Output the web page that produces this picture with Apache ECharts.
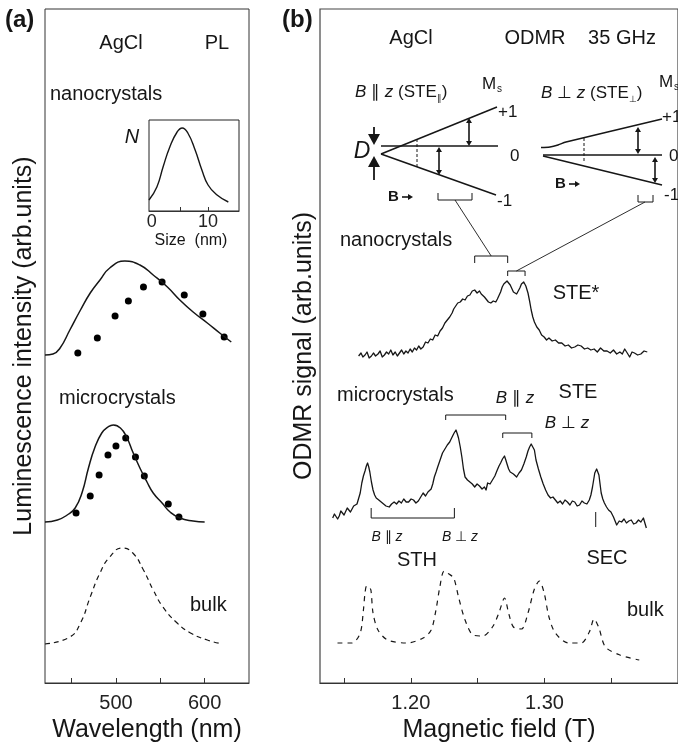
<!DOCTYPE html>
<html>
<head>
<meta charset="utf-8">
<script src="https://cdn.jsdelivr.net/npm/echarts@6/dist/echarts.min.js"></script>
<style>
  html, body { margin: 0; padding: 0; background: #fff; }
  #chart { width: 678px; height: 749px; }
</style>
</head>
<body>
<div id="chart"></div>
<script>
// ---------- (a) photoluminescence ----------
const nanoFitWl = [420, 429, 437, 448, 460, 471, 482, 493, 510, 527, 542, 558, 572, 587, 603, 617, 630];
const nanoFitI  = [328, 329, 335, 353, 373, 390, 403, 415, 422, 418, 408, 396, 383, 371, 360, 350, 341];
const nanoDotWl = [457, 479, 499, 514, 531, 552, 577, 598, 622];
const nanoDotI  = [330, 345, 367, 382, 396, 401, 388, 369, 346];

const microFitWl = [420, 434, 445, 454, 462, 469, 476, 484, 491, 497, 505, 512, 519, 527, 535, 542, 552, 561, 572, 587, 600];
const microFitI  = [161, 163, 168, 175, 191, 215, 235, 250, 256, 258, 255, 246, 231, 215, 201, 190, 180, 171, 165, 162, 161];
const microDotWl = [455, 471, 481, 491, 500, 511, 522, 532, 559, 571];
const microDotI  = [170, 187, 208, 228, 237, 245, 226, 207, 179, 166];

const bulkPlWl = [420, 448, 460, 471, 482, 493, 507, 519, 531, 542, 553, 569, 584, 603, 620];
const bulkPlI  = [39, 46, 60, 86, 110, 126, 135, 130, 113, 93, 76, 60, 50, 43, 39];

// size distribution of the nanocrystals (inset)
const sizeNm = [-0.5, 0.9, 2.0, 3.2, 4.5, 5.4, 6.4, 7.7, 8.9, 10.0, 11.6, 13.6];
const sizeN  = [11, 24, 44, 64, 79, 83, 78, 61, 41, 26, 16, 9];

const wlTicks = [450, 500, 550, 600];
const wlLabels = [500, 600];
const sizeTicks = [5, 10];
const sizeLabels = [0, 10];

// ---------- (b) ODMR at 35 GHz ----------
const nanoField = [1.1609,1.1627,1.1641,1.1657,1.1672,1.1688,1.1705,1.1720,1.1736,1.1754,1.1770,1.1786,1.1802,1.1818,1.1834,1.1850,1.1866,1.1883,1.1899,1.1915,1.1931,1.1947,1.1963,1.1979,1.1995,1.2011,1.2027,1.2043,1.2059,1.2075,1.2092,1.2110,1.2128,1.2146,1.2164,1.2182,1.2201,1.2219,1.2237,1.2255,1.2273,1.2291,1.2309,1.2321,1.2333,1.2351,1.2370,1.2388,1.2406,1.2424,1.2442,1.2460,1.2478,1.2496,1.2514,1.2527,1.2539,1.2551,1.2563,1.2581,1.2599,1.2617,1.2636,1.2648,1.2659,1.2672,1.2684,1.2696,1.2708,1.2720,1.2732,1.2744,1.2756,1.2768,1.2780,1.2792,1.2804,1.2816,1.2828,1.2845,1.2861,1.2877,1.2889,1.2901,1.2913,1.2925,1.2943,1.2961,1.2979,1.2998,1.3016,1.3034,1.3058,1.3082,1.3106,1.3130,1.3155,1.3179,1.3203,1.3227,1.3251,1.3275,1.3300,1.3324,1.3348,1.3372,1.3396,1.3420,1.3445,1.3469,1.3493,1.3517,1.3541,1.3565,1.3583,1.3601,1.3620,1.3638,1.3656,1.3674,1.3698,1.3722,1.3746,1.3770];
const nanoSignal = [327,330,326,328,331,325,327,330,327,329,332,326,328,331,329,333,328,331,327,330,333,329,332,330,334,331,335,333,337,334,336,341,340,344,343,348,347,352,355,360,363,366,370,374,376,380,381,384,383,387,388,392,393,390,392,389,390,386,385,381,380,382,381,384,386,391,396,399,400,402,402,398,396,391,389,389,391,395,399,401,397,390,382,373,366,361,356,353,348,346,343,345,342,343,340,340,337,338,335,336,338,337,334,335,333,334,331,335,332,332,330,333,329,331,329,334,330,326,331,330,328,329,332,331];

const microField = [1.1415,1.1428,1.1440,1.1452,1.1464,1.1476,1.1488,1.1500,1.1512,1.1524,1.1536,1.1548,1.1560,1.1572,1.1585,1.1597,1.1609,1.1621,1.1633,1.1645,1.1657,1.1667,1.1676,1.1685,1.1693,1.1705,1.1717,1.1729,1.1741,1.1760,1.1778,1.1796,1.1814,1.1826,1.1838,1.1856,1.1875,1.1893,1.1911,1.1929,1.1947,1.1965,1.1983,1.2002,1.2020,1.2038,1.2056,1.2074,1.2092,1.2110,1.2128,1.2140,1.2152,1.2164,1.2176,1.2189,1.2201,1.2219,1.2237,1.2255,1.2273,1.2291,1.2309,1.2324,1.2338,1.2348,1.2357,1.2370,1.2382,1.2394,1.2406,1.2424,1.2442,1.2460,1.2478,1.2496,1.2514,1.2533,1.2551,1.2563,1.2575,1.2593,1.2611,1.2629,1.2647,1.2660,1.2672,1.2686,1.2701,1.2711,1.2720,1.2732,1.2744,1.2756,1.2768,1.2780,1.2792,1.2810,1.2828,1.2846,1.2864,1.2877,1.2889,1.2901,1.2913,1.2925,1.2937,1.2955,1.2973,1.2991,1.3009,1.3027,1.3046,1.3064,1.3082,1.3100,1.3118,1.3136,1.3154,1.3172,1.3191,1.3209,1.3227,1.3245,1.3263,1.3281,1.3299,1.3318,1.3336,1.3348,1.3360,1.3377,1.3391,1.3408,1.3425,1.3437,1.3449,1.3465,1.3480,1.3498,1.3517,1.3529,1.3541,1.3560,1.3578,1.3596,1.3614,1.3632,1.3650,1.3668,1.3686,1.3704,1.3722,1.3741,1.3752,1.3763];
const microSignal = [165,169,168,164,167,172,171,168,170,175,175,171,172,177,176,179,181,190,200,207,212,217,220,216,211,201,193,188,185,183,181,179,177,175,176,179,181,179,182,180,184,181,181,184,183,180,182,186,190,187,191,189,194,199,206,211,216,223,230,234,238,241,246,250,253,249,245,236,226,214,206,203,201,199,196,199,197,194,196,193,200,199,203,207,213,217,220,224,227,223,219,214,211,212,209,208,206,210,213,219,226,232,236,239,236,233,223,214,206,199,193,188,185,186,183,180,182,179,183,181,178,182,181,177,178,182,180,179,183,188,196,210,214,208,190,184,180,176,173,171,166,162,158,162,161,164,160,162,163,159,160,163,161,165,160,155];

const bulkField = [1.1451,1.1560,1.1621,1.1645,1.1657,1.1669,1.1686,1.1701,1.1717,1.1754,1.1826,1.1971,1.2092,1.2152,1.2188,1.2217,1.2249,1.2285,1.2321,1.2357,1.2406,1.2466,1.2538,1.2611,1.2659,1.2701,1.2732,1.2768,1.2828,1.2877,1.2925,1.2962,1.2998,1.3034,1.3082,1.3179,1.3275,1.3336,1.3372,1.3408,1.3457,1.3565,1.3710];
const bulkSignal = [40,40,50,73,90,97,96,93,70,53,43,40,45,53,73,96,112,109,105,86,63,48,47,56,70,85,70,56,54,70,94,102,90,66,50,40,40,51,64,55,36,28,23];

const fieldTicks = [1.15, 1.20, 1.25, 1.30, 1.35];
const fieldLabels = [1.20, 1.30];

// ---------- drawing ----------
const FF = '"Liberation Sans", Arial, Helvetica, sans-serif';
const ink = '#161616';
const pairs = (xs, ys) => xs.map((x, i) => [x, ys[i]]);

const hiddenY = (grid, max, name, gap) => ({
  gridIndex: grid, type: 'value', min: 0, max: max,
  axisLine: { show: false }, axisTick: { show: false }, axisLabel: { show: false },
  splitLine: { show: false },
  name: name || '', nameLocation: 'middle', nameRotate: 90, nameGap: gap || 0,
  nameTextStyle: { fontFamily: FF, fontSize: 25, color: ink }
});

const xAxisBase = (grid, min, max, ticks, labels, fmt, name, size, margin, tickLen) => ({
  gridIndex: grid, type: 'value', min: min, max: max,
  axisLine: { show: true, lineStyle: { color: '#333', width: 1 } },
  axisTick: { show: true, inside: true, length: tickLen, customValues: ticks, lineStyle: { color: '#333', width: 1 } },
  axisLabel: { customValues: labels, formatter: fmt, fontFamily: FF, fontSize: size, color: '#222', margin: margin },
  splitLine: { show: false },
  name: name || '', nameLocation: 'middle', nameGap: 33,
  nameTextStyle: { fontFamily: FF, fontSize: 25, color: ink }
});

const option = {
  animation: false,
  backgroundColor: '#fff',
  grid: [
    { left: 45, top: 9, width: 204, height: 674, show: true, borderColor: '#333', borderWidth: 1 },
    { left: 320, top: 9, width: 370, height: 674, show: true, borderColor: '#444', borderWidth: 1.2 },
    { left: 149, top: 120, width: 90, height: 91, show: true, borderColor: '#222', borderWidth: 1 }
  ],
  xAxis: [
    xAxisBase(0, 420, 650, wlTicks, wlLabels, v => String(v), 'Wavelength (nm)', 20, 10, 5),
    xAxisBase(1, 1.132, 1.40, fieldTicks, fieldLabels, v => v.toFixed(2), 'Magnetic field (T)', 20, 10, 5),
    xAxisBase(2, -0.5, 15.5, sizeTicks, sizeLabels, v => String(v), '', 18, 2, 4)
  ],
  yAxis: [
    hiddenY(0, 674, 'Luminescence intensity (arb.units)', 8),
    hiddenY(1, 674, 'ODMR signal (arb.units)', 3),
    hiddenY(2, 91)
  ],
  series: [
    { type: 'line', xAxisIndex: 0, yAxisIndex: 0, data: pairs(nanoFitWl, nanoFitI), smooth: 0.5,
      showSymbol: false, lineStyle: { color: ink, width: 1.5 } },
    { type: 'scatter', xAxisIndex: 0, yAxisIndex: 0, data: pairs(nanoDotWl, nanoDotI),
      symbolSize: 7, itemStyle: { color: '#000', opacity: 1 } },
    { type: 'line', xAxisIndex: 0, yAxisIndex: 0, data: pairs(microFitWl, microFitI), smooth: 0.5,
      showSymbol: false, lineStyle: { color: ink, width: 1.5 } },
    { type: 'scatter', xAxisIndex: 0, yAxisIndex: 0, data: pairs(microDotWl, microDotI),
      symbolSize: 7, itemStyle: { color: '#000', opacity: 1 } },
    { type: 'line', xAxisIndex: 0, yAxisIndex: 0, data: pairs(bulkPlWl, bulkPlI), smooth: 0.5,
      showSymbol: false, lineStyle: { color: ink, width: 1.2, type: [5, 4] } },
    { type: 'line', xAxisIndex: 2, yAxisIndex: 2, data: pairs(sizeNm, sizeN), smooth: 0.5,
      showSymbol: false, lineStyle: { color: ink, width: 1.4 } },
    { type: 'line', xAxisIndex: 1, yAxisIndex: 1, data: pairs(nanoField, nanoSignal),
      showSymbol: false, sampling: 'none', lineStyle: { color: ink, width: 1.3, join: 'round' } },
    { type: 'line', xAxisIndex: 1, yAxisIndex: 1, data: pairs(microField, microSignal),
      showSymbol: false, sampling: 'none', lineStyle: { color: ink, width: 1.3, join: 'round' } },
    { type: 'line', xAxisIndex: 1, yAxisIndex: 1, data: pairs(bulkField, bulkSignal), smooth: 0.3,
      showSymbol: false, lineStyle: { color: ink, width: 1.2, type: [5, 5] } }
  ]
};

const chart = echarts.init(document.getElementById('chart'), null, { renderer: 'canvas' });
chart.setOption(option);

// ---------- annotations ----------
function seg(x1, y1, x2, y2, w, dash) {
  return { type: 'line', silent: true, z: 10, shape: { x1, y1, x2, y2 },
    style: { stroke: ink, lineWidth: w || 1, lineDash: dash || null } };
}
function poly(points, w, smooth) {
  return { type: 'polyline', silent: true, z: 10, shape: { points, smooth: smooth || 0 },
    style: { stroke: ink, lineWidth: w || 1, fill: null } };
}
function tri(points) {
  return { type: 'polygon', silent: true, z: 10, shape: { points }, style: { fill: ink } };
}
function txt(x, y, text, size, align, extra) {
  return { type: 'text', silent: true, z: 10, x, y,
    style: Object.assign({ text, fill: ink, fontFamily: FF, fontSize: size,
      align: align || 'left', verticalAlign: 'middle' }, extra || {}) };
}
function richTxt(x, y, text, size, align) {
  return txt(x, y, text, size, align, {
    rich: {
      n: { fontFamily: FF, fontSize: size, lineHeight: size + 5, fill: ink },
      i: { fontFamily: FF, fontSize: size, fontStyle: 'italic', lineHeight: size + 5, fill: ink },
      s: { fontFamily: FF, fontSize: Math.round(size * 0.55), lineHeight: 8, verticalAlign: 'bottom', fill: ink }
    }
  });
}
function dblArrow(x, yTop, yBot) {
  const h = 5, w = 3;
  return [
    seg(x, yTop + h - 1, x, yBot - h + 1, 1.6),
    tri([[x, yTop], [x - w, yTop + h], [x + w, yTop + h]]),
    tri([[x, yBot], [x - w, yBot - h], [x + w, yBot - h]])
  ];
}
function fieldArrow(x, y) {
  return [txt(x, y, 'B', 15, 'left', { fontWeight: 'bold' }),
    seg(x + 14, y, x + 21, y, 1.6),
    tri([[x + 20, y - 3], [x + 20, y + 3], [x + 25, y]])];
}
const toPx = (b, v) => chart.convertToPixel({ gridIndex: 1 }, [b, v]);
function bracket(b0, b1, v, tip) {
  const p0 = toPx(b0, v), p1 = toPx(b1, v);
  return poly([[p0[0], p0[1] + tip], [p0[0], p0[1]], [p1[0], p1[1]], [p1[0], p1[1] + tip]], 1);
}
function bracketMid(b0, b1, v) {
  return toPx((b0 + b1) / 2, v);
}

const g = [];
// panel letters
g.push(txt(5, 20, '(a)', 24, 'left', { fontWeight: 'bold' }));
g.push(txt(282, 20, '(b)', 24, 'left', { fontWeight: 'bold' }));

// panel (a) labels
g.push(txt(121, 43, 'AgCl', 20, 'center'));
g.push(txt(217, 43, 'PL', 20, 'center'));
g.push(txt(50, 94, 'nanocrystals', 20));
g.push(txt(132, 137, 'N', 20, 'center', { fontStyle: 'italic' }));
g.push(txt(191, 241, 'Size  (nm)', 16, 'center'));
g.push(txt(59, 398, 'microcrystals', 20));
g.push(txt(190, 605, 'bulk', 20));

// panel (b) header
g.push(txt(411, 38, 'AgCl', 20, 'center'));
g.push(txt(535, 38, 'ODMR', 20, 'center'));
g.push(txt(622, 38, '35 GHz', 20, 'center'));

// triplet level scheme, B parallel to z
g.push(richTxt(355, 92, '{i|B}{n| \u2225 }{i|z}{n| (STE}{s|\u2225}{n|)}', 17));
g.push(txt(482, 84, 'M', 17));
g.push(txt(497, 89, 's', 10));
g.push(txt(498, 112, '+1', 17));
g.push(txt(510, 156, '0', 17));
g.push(txt(497, 201, '-1', 17));
g.push(seg(381, 146, 498, 146, 1.6));
g.push(seg(381, 154, 497, 107, 1.5));
g.push(seg(381, 154, 496, 195, 1.5));
g.push(seg(417, 139, 417, 168, 1, [3, 2]));
g.push(...dblArrow(469, 118, 146));
g.push(...dblArrow(439, 147, 175));
g.push(seg(374, 127, 374, 135, 1.8));
g.push(tri([[368, 134], [380, 134], [374, 145]]));
g.push(seg(374, 166, 374, 180, 1.8));
g.push(tri([[368, 167], [380, 167], [374, 156]]));
g.push(txt(362, 152, 'D', 23, 'center', { fontStyle: 'italic' }));
g.push(...fieldArrow(388, 197));
g.push(poly([[438, 193], [438, 200], [472, 200], [472, 193]], 1));

// triplet level scheme, B perpendicular to z
g.push(richTxt(541, 93, '{i|B}{n| \u22A5 }{i|z}{n| (STE}{s|\u22A5}{n|)}', 17));
g.push(txt(659, 82, 'M', 17));
g.push(txt(674, 87, 's', 10));
g.push(txt(662, 117, '+1', 17));
g.push(txt(669, 156, '0', 17));
g.push(txt(664, 195, '-1', 17));
g.push(seg(543, 155, 662, 155, 1.6));
g.push(poly([[541, 147.5], [550, 147], [558, 145], [566, 142], [662, 119]], 1.5, 0.3));
g.push(seg(543, 156, 662, 185, 1.5));
g.push(seg(584, 138, 584, 163, 1, [3, 2]));
g.push(...dblArrow(638, 127, 154));
g.push(...dblArrow(655, 157, 183));
g.push(...fieldArrow(555, 184));
g.push(poly([[638, 195], [638, 202], [653, 202], [653, 195]], 1));

// spectrum labels
g.push(txt(340, 240, 'nanocrystals', 20));
g.push(txt(576, 293, 'STE*', 20, 'center'));
g.push(txt(337, 395, 'microcrystals', 20));
g.push(richTxt(515, 398, '{i|B}{n| \u2225 }{i|z}', 17, 'center'));
g.push(txt(578, 392, 'STE', 20, 'center'));
g.push(richTxt(567, 423, '{i|B}{n| \u22A5 }{i|z}', 17, 'center'));
g.push(richTxt(387, 537, '{i|B}{n| \u2225 }{i|z}', 14, 'center'));
g.push(richTxt(460, 537, '{i|B}{n| \u22A5 }{i|z}', 14, 'center'));
g.push(txt(417, 560, 'STH', 20, 'center'));
g.push(txt(607, 558, 'SEC', 20, 'center'));
g.push(txt(627, 610, 'bulk', 20));

// resonance-position brackets on the field scale
g.push(bracket(1.2478, 1.2725, 427, 7));
g.push(bracket(1.2725, 1.2855, 412, 5));
g.push(bracket(1.2261, 1.2710, 268, 5));
g.push(bracket(1.2688, 1.2906, 250, 5));
g.push(bracket(1.1703, 1.2326, 165, -10));
const secTop = toPx(1.3384, 171), secBot = toPx(1.3384, 156);
g.push(seg(secTop[0], secTop[1], secBot[0], secBot[1], 1));
const m1 = bracketMid(1.2478, 1.2725, 427), m2 = bracketMid(1.2725, 1.2855, 412);
g.push(seg(455, 200, m1[0], m1[1], 0.9));
g.push(seg(645, 202, m2[0], m2[1], 0.9));

chart.setOption({ graphic: g });
</script>
</body>
</html>
